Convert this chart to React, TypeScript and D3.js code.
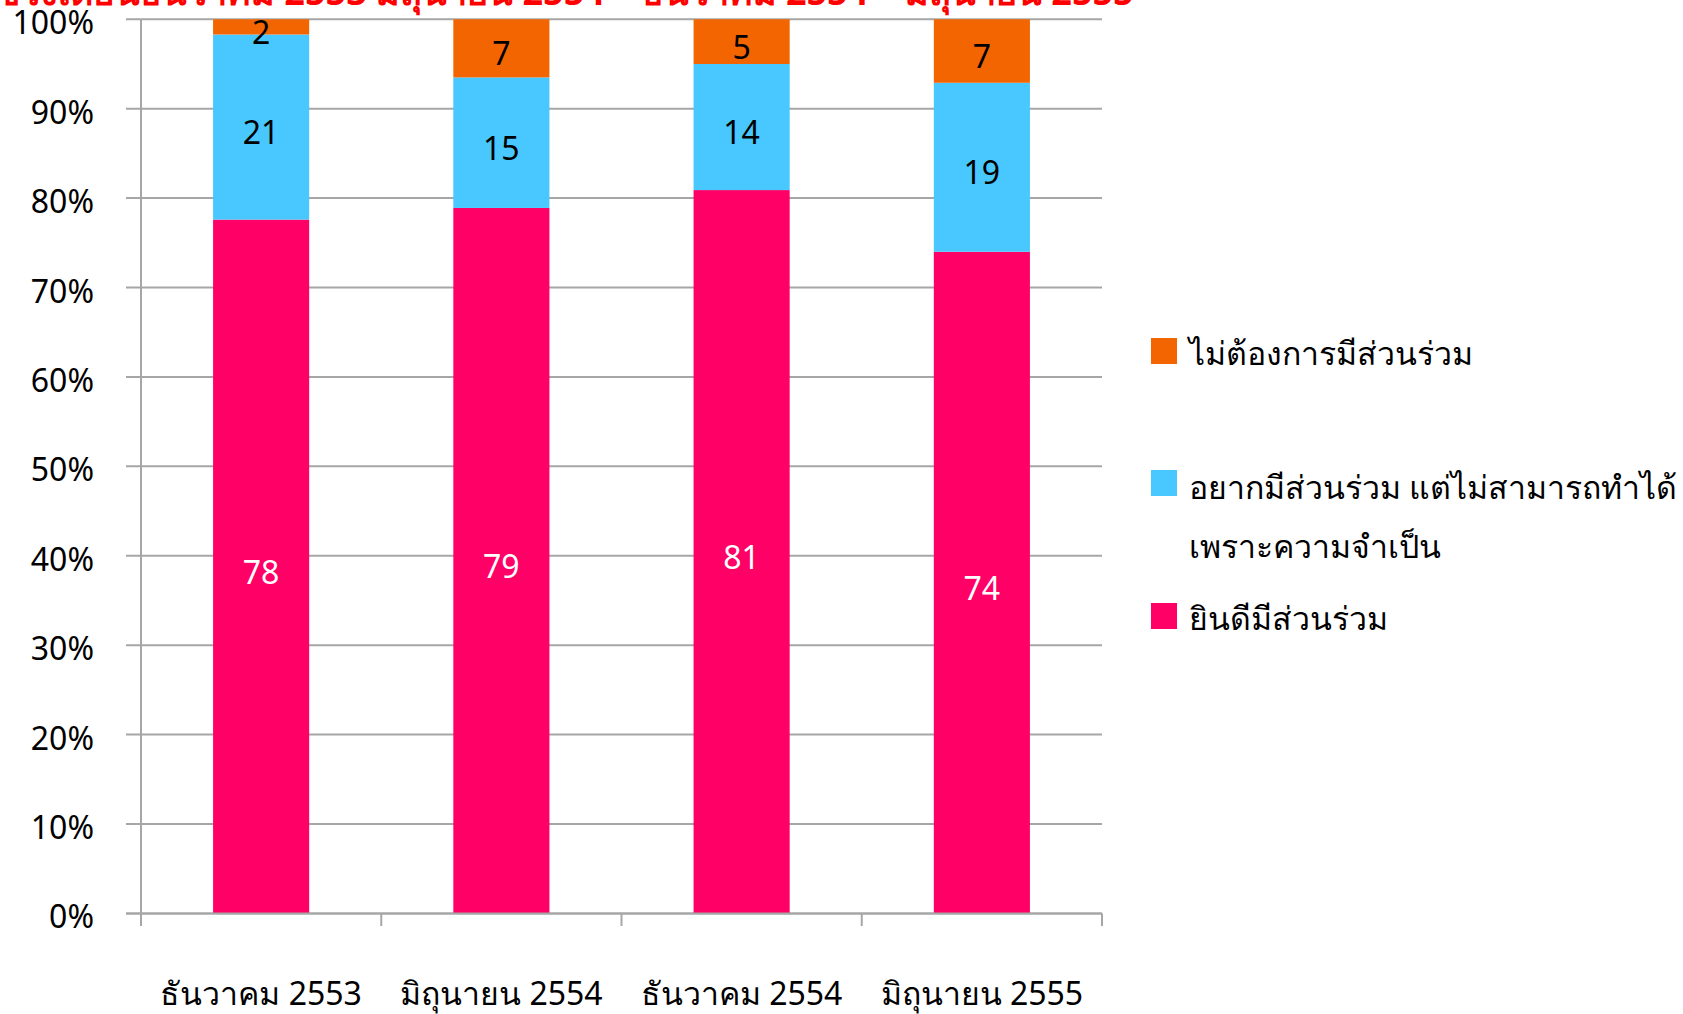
import React from "react";
import * as d3 from "d3";

const categories = ["ธันวาคม 2553", "มิถุนายน 2554", "ธันวาคม 2554", "มิถุนายน 2555"];
const seriesNames = ["ยินดีมีส่วนร่วม", "อยากมีส่วนร่วม แต่ไม่สามารถทำได้ เพราะความจำเป็น", "ไม่ต้องการมีส่วนร่วม"];
const welcome = [77.6, 78.9, 80.9, 74.0];
const wantButCannot = [20.7, 14.6, 14.1, 18.9];
const notWant = [1.7, 6.5, 5.0, 7.1];
const yTicks = [0, 10, 20, 30, 40, 50, 60, 70, 80, 90, 100];
const titleText = "ช่วงเดือนธันวาคม 2553 มิถุนายน 2554 – ธันวาคม 2554 – มิถุนายน 2555";

const colors = ["#FF0066", "#48C8FF", "#F26500"];
const labelColors = ["#ffffff", "#000000", "#000000"];

const W = 1683;
const H = 1014;
const FONT = "'Noto Sans', 'DejaVu Sans', sans-serif";

export default function App() {
  const x = d3.scaleBand<string>().domain(categories).range([141, 1102]).paddingInner(0.6).paddingOuter(0.3);
  const y = d3.scaleLinear().domain([0, 100]).range([913.4, 19.3]);
  const series = [welcome, wantButCannot, notWant];
  const rows = categories.map((c, i) => ({ c, s0: series[0][i], s1: series[1][i], s2: series[2][i] }));
  const stack = d3.stack<any>().keys(["s0", "s1", "s2"])(rows);
  const step = x.step();
  const edges = categories.map((c) => (x(c) as number) - (step - x.bandwidth()) / 2).concat([1102]);
  const legendLine2 = seriesNames[1].split(" เพราะ");

  return (
    <svg width={W} height={H} style={{ position: "absolute", left: 0, top: 0, background: "#fff" }} fontFamily={FONT}>
      <text x={-4} y={5} fill="#FF0000" fontWeight="bold" fontSize={36}>{titleText}</text>
      {yTicks.map((t) => (
        <g key={t}>
          <line x1={126} x2={1102} y1={y(t)} y2={y(t)} stroke="#A6A6A6" strokeWidth={2} />
          <text x={94} y={y(t) + 3.5} dy="0.36em" textAnchor="end" fontSize={32} fill="#000">{t}%</text>
        </g>
      ))}
      <line x1={141} x2={141} y1={y(100)} y2={913.4} stroke="#A6A6A6" strokeWidth={2} />
      {edges.map((e, i) => (
        <line key={i} x1={e} x2={e} y1={913.4} y2={926} stroke="#A6A6A6" strokeWidth={2} />
      ))}
      {stack.map((layer, si) => (
        <g key={si}>
          {layer.map((d, i) => (
            <rect key={i} x={x(categories[i])} width={x.bandwidth()} y={y(d[1])} height={y(d[0]) - y(d[1])} fill={colors[si]} />
          ))}
          {layer.map((d, i) => (
            <text key={"t" + i} x={(x(categories[i]) as number) + x.bandwidth() / 2} y={(y(d[0]) + y(d[1])) / 2 + 5.5} dy="0.36em" textAnchor="middle" fontSize={32} fill={labelColors[si]}>
              {Math.round(series[si][i])}
            </text>
          ))}
        </g>
      ))}
      <line x1={126} x2={1102} y1={913.4} y2={913.4} stroke="#A6A6A6" strokeWidth={2} />
      {categories.map((c) => (
        <text key={c} x={(x(c) as number) + x.bandwidth() / 2} y={1005} textAnchor="middle" fontSize={32} fill="#000">{c}</text>
      ))}
      <g>
        <rect x={1151} y={338} width={26} height={26} fill={colors[2]} />
        <text x={1189} y={365} fontSize={32} fill="#000">{seriesNames[2]}</text>
        <rect x={1151} y={470} width={26} height={26} fill={colors[1]} />
        <text x={1189} y={499} fontSize={32} fill="#000">{legendLine2[0]}</text>
        <text x={1189} y={558} fontSize={32} fill="#000">{"เพราะ" + legendLine2[1]}</text>
        <rect x={1151} y={603} width={26} height={26} fill={colors[0]} />
        <text x={1189} y={630} fontSize={32} fill="#000">{seriesNames[0]}</text>
      </g>
    </svg>
  );
}
